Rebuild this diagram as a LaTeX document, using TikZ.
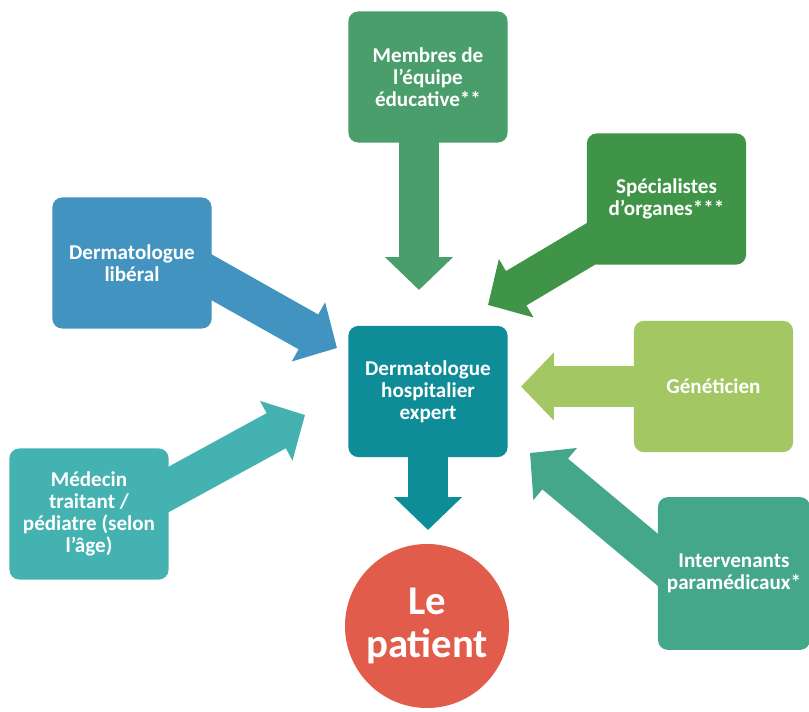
\documentclass[tikz,border=0pt]{standalone}
\usepackage{fontspec}
\setmainfont{Carlito}
\usetikzlibrary{arrows.meta, calc, backgrounds}

\definecolor{cexpert}{HTML}{0E8C98}
\definecolor{ceduc}{HTML}{4A9E6B}
\definecolor{cspec}{HTML}{3F9447}
\definecolor{clib}{HTML}{4393C0}
\definecolor{cgen}{HTML}{A3C762}
\definecolor{cmed}{HTML}{45B2B2}
\definecolor{cpara}{HTML}{45A78A}
\definecolor{cpat}{HTML}{E25C4B}

\begin{document}
\begin{tikzpicture}[
            x=0.025cm, y=0.025cm,
            % ----- Styles -----
                box/.style={
                    rectangle, rounded corners=0.25cm, inner sep=2pt,
                    minimum width=3.98cm, minimum height=3.28cm,
                    text=white, align=center,
                    font=\bfseries\fontsize{15}{15.5}\selectfont
                },
                flow/.style={line width=1cm, -{Triangle[length=0.82cm, width=1.65cm]}},
                pat/.style={circle, minimum size=4.1cm, inner sep=0pt, text=white,
                    align=center, font=\bfseries\fontsize{29}{30}\selectfont}
            ]

                \useasboundingbox (0,0) rectangle (809,711);

% ===================== Zentrum ==================================
                \node[box, fill=cexpert] (expert) at (428, 319.5)
                    {Dermatologue\\hospitalier\\expert};
                \node[pat, fill=cpat] (patient) at (427, 85) {Le\\patient};

% ===================== Intervenants autour ======================
                \node[box, fill=ceduc] (p1) at (428, 634)
                    {Membres de\\l'équipe\\éducative**};
                \node[box, fill=cspec] (p2) at (666.5, 512)
                    {Spécialistes\\d'organes***};
                \node[box, fill=clib] (p3) at (132, 448)
                    {Dermatologue\\libéral};
                \node[box, fill=cgen] (p4) at (713.5, 324.5)
                    {Généticien};
                \node[box, fill=cmed] (p5) at (89, 197)
                    {Médecin\\traitant /\\pédiatre (selon\\l'âge)};
                \node[box, fill=cpara, minimum width=3.8cm, minimum height=3.82cm] (p6) at (734, 137.5)
                    {Intervenants\\paramédicaux*};

% ===================== Pfeilspitzen =============================
                \coordinate (t1) at (419, 421);
                \coordinate (t2) at (488, 406);
                \coordinate (t3) at (337, 363);
                \coordinate (t4) at (521, 324.5);
                \coordinate (t5) at (305, 296);
                \coordinate (t6) at (530, 258);
                \coordinate (t7) at (428, 181);

% ===================== Blockpfeile (hinter den Kästen) ==========
                \begin{scope}[on background layer]
                \draw[flow, ceduc]   (p1.center -| t1) -- (t1);
                \draw[flow, cspec]   (p2.center) -- (t2);
                \draw[flow, clib]    ($(p3.center)+(48,3.5)$) -- (t3);
                \draw[flow, cgen]    (p4.center) -- (t4);
                \draw[flow, cmed]    ($(p5.center)+(31,-2)$) -- (t5);
                \draw[flow, cpara]   ($(p6.center)+(-34,-21.5)$) -- (t6);
                \draw[flow, cexpert] (expert.center) -- (t7);
                \end{scope}

\end{tikzpicture}
\end{document}
